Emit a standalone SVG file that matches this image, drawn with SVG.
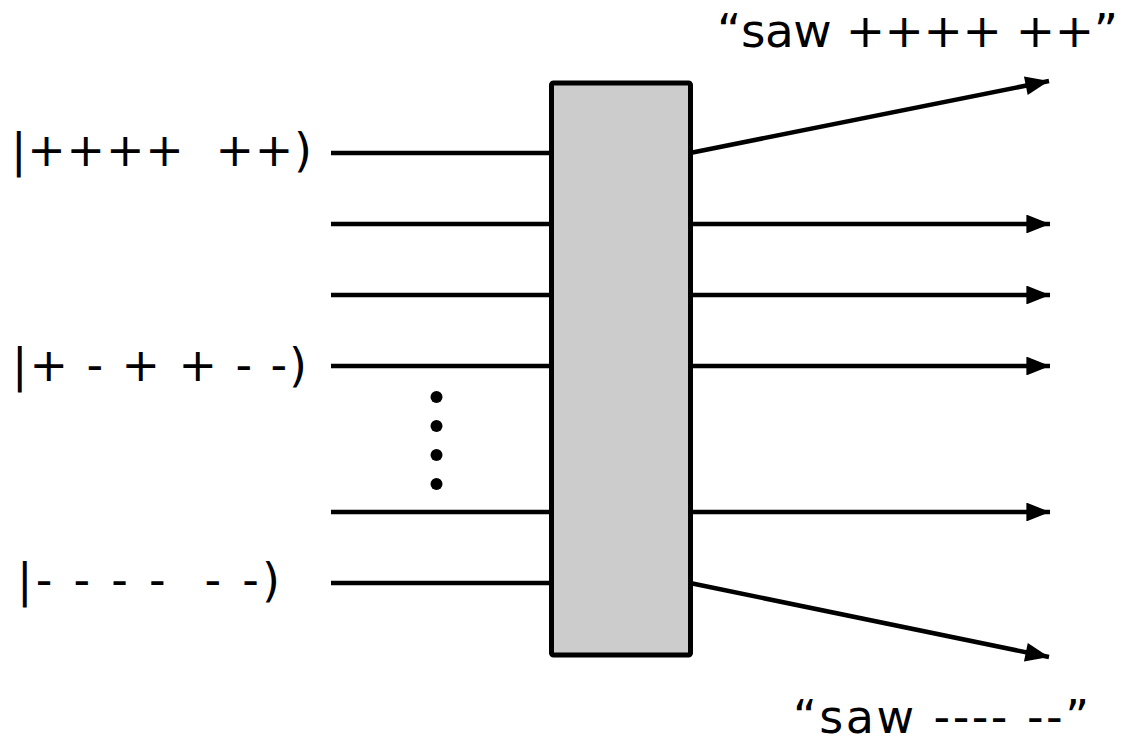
<svg xmlns="http://www.w3.org/2000/svg" width="1121" height="746" viewBox="0 0 1121 746">
<defs>
<style>
text{font-family:"DejaVu Sans","Verdana",sans-serif;font-size:46px;fill:#000;white-space:pre}
.ln{stroke:#000;stroke-width:4.5;fill:none}
</style>
<marker id="ah" viewBox="0 0 10 8" refX="10" refY="4" markerWidth="6" markerHeight="4.2" orient="auto" markerUnits="strokeWidth">
<path d="M0,0 L10,4 L0,8 Z" fill="#000"/>
</marker>
</defs>
<rect width="1121" height="746" fill="#fff"/>
<g id="connectors">
<line class="ln" x1="331" y1="153" x2="551" y2="153"/>
<line class="ln" x1="331" y1="224" x2="551" y2="224"/>
<line class="ln" x1="331" y1="295" x2="551" y2="295"/>
<line class="ln" x1="331" y1="366" x2="551" y2="366"/>
<line class="ln" x1="331" y1="512" x2="551" y2="512"/>
<line class="ln" x1="331" y1="583" x2="551" y2="583"/>
<line class="ln" x1="690" y1="153" x2="1049" y2="81" marker-end="url(#ah)"/>
<line class="ln" x1="690" y1="224" x2="1050" y2="224" marker-end="url(#ah)"/>
<line class="ln" x1="690" y1="295" x2="1050" y2="295" marker-end="url(#ah)"/>
<line class="ln" x1="690" y1="366" x2="1050" y2="366" marker-end="url(#ah)"/>
<line class="ln" x1="690" y1="512" x2="1050" y2="512" marker-end="url(#ah)"/>
<line class="ln" x1="690" y1="583" x2="1049" y2="657" marker-end="url(#ah)"/>
</g>
<g id="box">
<rect x="551.5" y="83" width="139" height="572" rx="2" fill="#cccccc" stroke="#000" stroke-width="5"/>
</g>
<g id="dots">
<circle cx="436.5" cy="397" r="6"/>
<circle cx="436.5" cy="426" r="6"/>
<circle cx="436.5" cy="455" r="6"/>
<circle cx="436.5" cy="484" r="6"/>
</g>
<g id="label-in1"><text x="11" y="166" textLength="301" lengthAdjust="spacing">|++++  ++)</text></g>
<g id="label-in2"><text x="12" y="381" textLength="295" lengthAdjust="spacing">|+ - + + - -)</text></g>
<g id="label-in3"><text x="17" y="596" textLength="263" lengthAdjust="spacing">|- - - -  - -)</text></g>
<g id="label-out1"><text x="717" y="47" textLength="401" lengthAdjust="spacing" style="font-size:47px">“saw ++++ ++”</text></g>
<g id="label-out2"><text x="793" y="733" textLength="296" lengthAdjust="spacing">“saw ---- --”</text></g>
</svg>
